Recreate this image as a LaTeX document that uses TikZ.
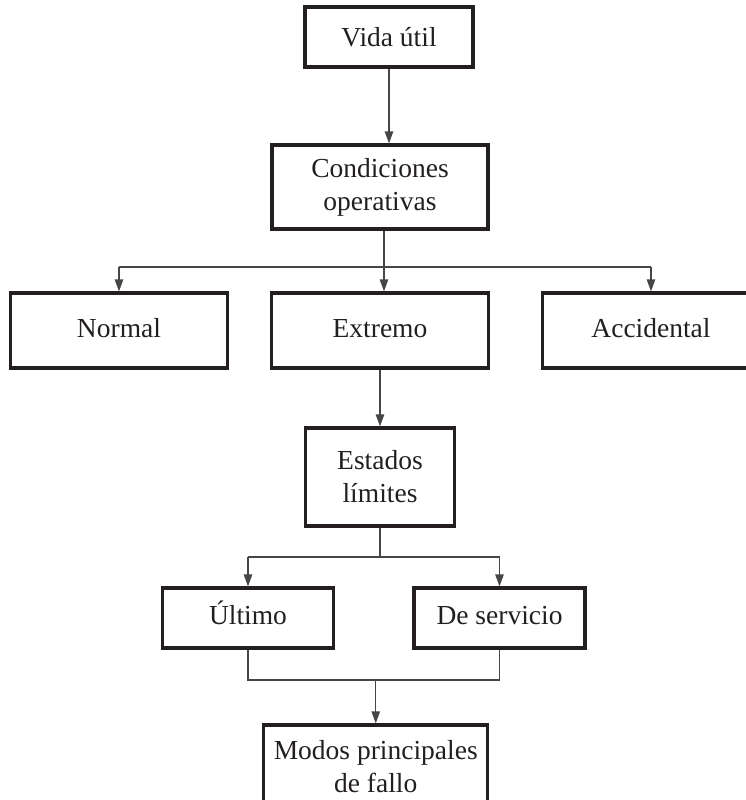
\documentclass[tikz,border=0pt]{standalone}
\usepackage{fontspec}
\setmainfont{Liberation Serif}
\usepackage{tikz}
\usetikzlibrary{arrows.meta, positioning, calc}
\definecolor{boxblack}{RGB}{35, 31, 32}
\definecolor{linegray}{RGB}{70, 70, 70}

\begin{document}
\begin{tikzpicture}[
    x=0.5pt, y=-0.5pt,
    box/.style={draw=boxblack, line width=1.6pt, rectangle, inner sep=0pt, align=center, text=boxblack, font=\fontsize{13.75}{16.5}\selectfont},
    wide/.style={box, minimum width=108.5pt, minimum height=37.5pt, text height=9.4pt, text depth=2.9pt},
    small/.style={box, minimum width=85.5pt, minimum height=30pt, text height=9.4pt, text depth=2.9pt},
    link/.style={draw=linegray, line width=0.7pt},
    arrow/.style={link, -{Triangle[length=6pt, width=4.2pt]}}
]
\useasboundingbox (0,0) rectangle (746,800);
\clip (0,0) rectangle (746,800);

% Service life
\node[box, minimum width=84pt, minimum height=30pt] (vida) at (389,37) {Vida útil};

% Operating conditions
\node[box, minimum width=108pt, minimum height=42pt, below=37.4pt of vida, xshift=-4.5pt] (cond) {Condiciones\\operativas};
\draw[arrow] (vida.south) -- (vida.south |- cond.north);

% Three kinds of conditions
\node[wide, below=30.4pt of cond] (extremo) {Extremo};
\node[wide, left=20.4pt of extremo] (normal) {Normal};
\node[wide, right=25.4pt of extremo] (accid) {Accidental};
\coordinate[below=18.2pt of cond.south, xshift=2pt] (split1);
\draw[link] (cond.south -| split1) -- (split1);
\draw[link] (normal.north |- split1) -- (accid.north |- split1);
\draw[arrow] (normal.north |- split1) -- (normal.north);
\draw[arrow] (split1) -- (split1 |- extremo.north);
\draw[arrow] (accid.north |- split1) -- (accid.north);

% Limit states
\node[box, minimum width=74.5pt, minimum height=49pt, below=28.4pt of extremo] (estados) {Estados\\límites};
\draw[arrow] (extremo) -- (estados);

\node[small, below=29.4pt of estados, xshift=-66pt] (ultimo) {Último};
\node[small, below=29.4pt of estados, xshift=59.75pt] (servicio) {De servicio};
\coordinate[below=14.7pt of estados.south] (split2);
\draw[link] (estados.south) -- (split2);
\draw[link] (ultimo.north |- split2) -- (servicio.north |- split2);
\draw[arrow] (ultimo.north |- split2) -- (ultimo.north);
\draw[arrow] (servicio.north |- split2) -- (servicio.north);

% Failure modes
\node[box, minimum width=112pt, minimum height=42pt, below=36.9pt of $(ultimo.south)!0.5!(servicio.south)$, xshift=1pt] (modos) {Modos principales\\de fallo};
\coordinate[below=15.2pt of ultimo.south] (join);
\draw[link] (ultimo.south) -- (join) -- (servicio.south |- join) -- (servicio.south);
\draw[arrow] (modos.north |- join) -- (modos.north);

\end{tikzpicture}
\end{document}
